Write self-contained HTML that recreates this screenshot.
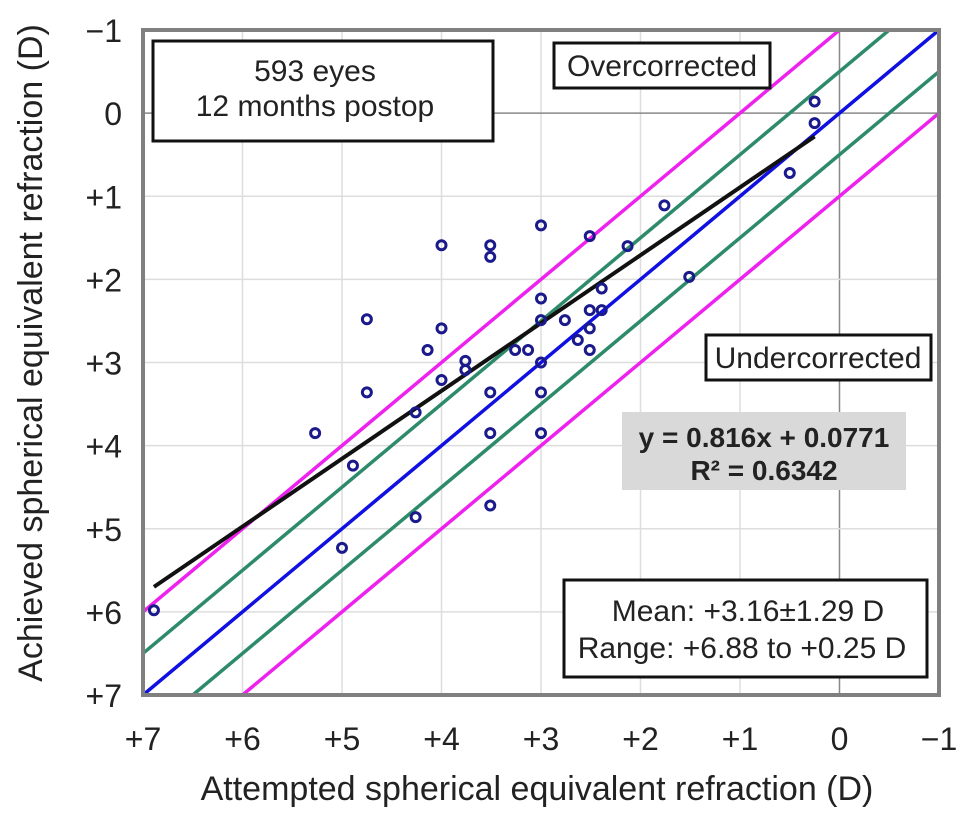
<!DOCTYPE html>
<html><head><meta charset="utf-8"><style>
body{margin:0;background:#fff;}
svg text{font-family:"Liberation Sans",Arial,sans-serif;fill:#222;}
</style></head><body>
<svg id="chart" width="969" height="817" xmlns="http://www.w3.org/2000/svg">
<g id="grid"></g>
<g id="refs"></g>
<g id="pts"></g>
<g id="ticks"></g>
<rect x="143" y="30" width="796" height="665" fill="none" stroke="#808080" stroke-width="4"/>
<g>
<rect x="153" y="41" width="340" height="100" fill="#fff" stroke="#111" stroke-width="3"/>
<text x="315" y="81" font-size="30" text-anchor="middle">593 eyes</text>
<text x="315" y="116" font-size="30" text-anchor="middle">12 months postop</text></g>
<g>
<rect x="554" y="43" width="216" height="45" fill="#fff" stroke="#111" stroke-width="3"/>
<text x="662" y="76" font-size="30" text-anchor="middle">Overcorrected</text></g>
<g>
<rect x="706" y="335" width="225" height="45" fill="#fff" stroke="#111" stroke-width="3"/>
<text x="818" y="368" font-size="30" text-anchor="middle">Undercorrected</text></g>
<g>
<rect x="622" y="412" width="284" height="78" fill="#d9d9d9"/>
<text x="764" y="447" font-size="28" font-weight="bold" text-anchor="middle">y = 0.816x + 0.0771</text>
<text x="764" y="480" font-size="28" font-weight="bold" text-anchor="middle">R² = 0.6342</text></g>
<g>
<rect x="564" y="580" width="363" height="97" fill="#fff" stroke="#111" stroke-width="3"/>
<text x="748" y="621" font-size="30" text-anchor="middle">Mean: +3.16±1.29 D</text>
<text x="742" y="658" font-size="30" text-anchor="middle">Range: +6.88 to +0.25 D</text></g>
<text x="537" y="800" font-size="34" text-anchor="middle">Attempted spherical equivalent refraction (D)</text>
<text transform="translate(42,353) rotate(-90)" font-size="34" text-anchor="middle">Achieved spherical equivalent refraction (D)</text>
</svg>
<script>
const xTicks=[7,6,5,4,3,2,1,0,-1];
const yTicks=[-1,0,1,2,3,4,5,6,7];
const attempted=[6.89,5.27,4.89,4.75,4.75,5.0,4.26,4.26,4.14,4.0,4.0,4.0,3.76,3.76,3.51,3.51,3.51,3.51,3.51,3.26,3.13,3.0,3.0,3.0,3.0,3.0,3.0,2.76,2.63,2.51,2.51,2.51,2.51,2.39,2.39,2.13,1.76,1.51,0.5,0.25,0.25];
const achieved=[5.98,3.85,4.24,2.48,3.36,5.23,4.86,3.60,2.85,1.59,2.59,3.21,2.98,3.09,1.59,1.73,3.36,3.85,4.72,2.85,2.85,1.35,2.23,2.49,3.0,3.36,3.85,2.49,2.73,1.48,2.37,2.59,2.85,2.11,2.37,1.60,1.11,1.97,0.72,-0.14,0.12];
const slope=0.816, intercept=0.0771;
const refOffsets=[-1,-0.5,0,0.5,1];
const refColors=['#ee22ee','#2e8b6a','#1010e0','#2e8b6a','#ee22ee'];
const NS='http://www.w3.org/2000/svg';
const X0=143,X1=939,Y0=30,Y1=695;
const xs=v=>X0+(7-v)*(X1-X0)/8;
const ys=v=>Y0+(v+1)*(Y1-Y0)/8;
function mk(tag,attrs,parent){const e=document.createElementNS(NS,tag);for(const k in attrs)e.setAttribute(k,attrs[k]);document.getElementById(parent).appendChild(e);return e;}
xTicks.forEach(t=>{
 const l=mk('line',{x1:xs(t),x2:xs(t),y1:Y0,y2:Y1,stroke:t===0?'#888':'#ddd','stroke-width':1.5},'grid');
 
 
 const tx=mk('text',{x:xs(t),y:750,'font-size':32,'text-anchor':'middle'},'ticks');
 tx.textContent=t>0?'+'+t:(t<0?'\u2212'+(-t):'0');
 
 
});
yTicks.forEach(t=>{
 const l=mk('line',{x1:X0,x2:X1,y1:ys(t),y2:ys(t),stroke:t===0?'#888':'#ddd','stroke-width':1.5},'grid');
 
 
 const tx=mk('text',{x:122,y:ys(t)+12,'font-size':32,'text-anchor':'end'},'ticks');
 tx.textContent=t>0?'+'+t:(t<0?'\u2212'+(-t):'0');
 
 
});
refOffsets.forEach((o,i)=>{
 let xa=Math.max(-1,-1-o), xb=Math.min(7,7-o);
 const l=mk('line',{x1:xs(xa),y1:ys(xa+o),x2:xs(xb),y2:ys(xb+o),stroke:refColors[i],'stroke-width':3.5},'refs');
 
 
});
const xmin=Math.min(...attempted), xmax=Math.max(...attempted);
const rl=mk('line',{x1:xs(xmax),y1:ys(slope*xmax+intercept),x2:xs(xmin),y2:ys(slope*xmin+intercept),stroke:'#111','stroke-width':4},'refs');


attempted.forEach((a,i)=>{
 const c=mk('circle',{cx:xs(a),cy:ys(achieved[i]),r:4.5,fill:'none',stroke:'#1a1a8c','stroke-width':3},'pts');
 
 
});
</script>
</body></html>
